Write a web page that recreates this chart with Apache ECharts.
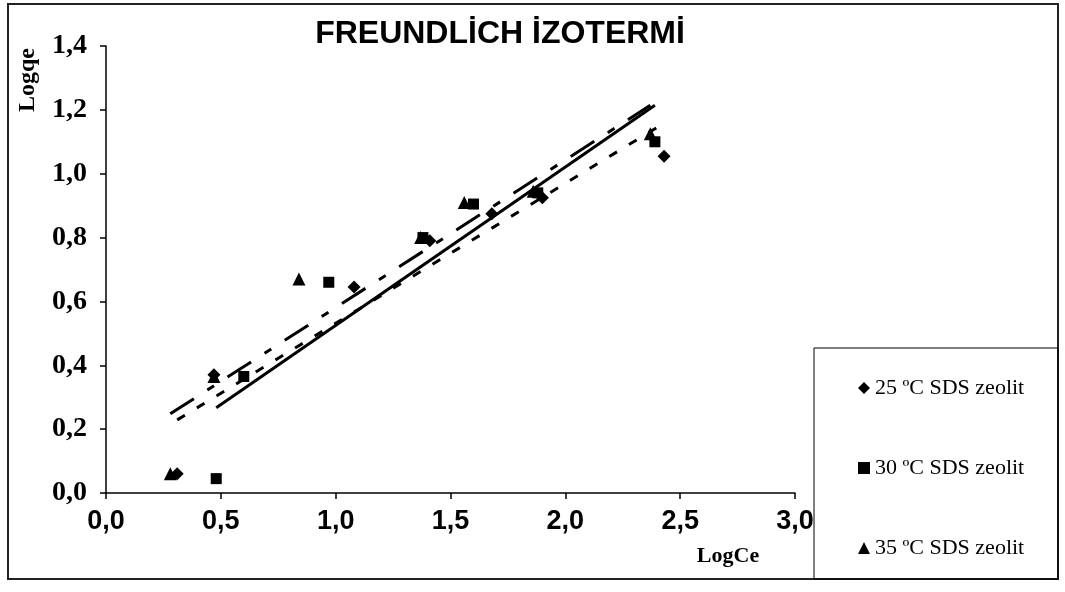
<!DOCTYPE html>
<html>
<head>
<meta charset="utf-8">
<style>
  html, body { margin: 0; padding: 0; background: #fff; }
  #chart { width: 1065px; height: 592px; }
</style>
<script src="https://cdn.jsdelivr.net/npm/echarts@6/dist/echarts.min.js"></script>
</head>
<body>
<div id="chart"></div>
<script>
// Freundlich isotherm: log Ce vs log qe at three temperatures
const seriesNames = ['25 ºC SDS zeolit', '30 ºC SDS zeolit', '35 ºC SDS zeolit'];

const logCe25 = [0.31, 0.47, 1.08, 1.41, 1.68, 1.90, 2.43];
const logqe25 = [0.06, 0.37, 0.645, 0.79, 0.875, 0.925, 1.055];

const logCe30 = [0.48, 0.60, 0.97, 1.38, 1.60, 1.88, 2.39];
const logqe30 = [0.045, 0.365, 0.66, 0.80, 0.905, 0.94, 1.10];

const logCe35 = [0.28, 0.47, 0.84, 1.37, 1.56, 1.86, 2.37];
const logqe35 = [0.06, 0.365, 0.67, 0.80, 0.91, 0.945, 1.125];

const xTicks = { min: 0, max: 3, step: 0.5 };
const yTicks = { min: 0, max: 1.4, step: 0.2 };

function pairs(xs, ys) { return xs.map((x, i) => [x, ys[i]]); }

// least-squares trendline spanning the series' x range
function trend(xs, ys) {
  const n = xs.length;
  const mx = xs.reduce((a, b) => a + b, 0) / n;
  const my = ys.reduce((a, b) => a + b, 0) / n;
  let sxy = 0, sxx = 0;
  for (let i = 0; i < n; i++) {
    sxy += (xs[i] - mx) * (ys[i] - my);
    sxx += (xs[i] - mx) * (xs[i] - mx);
  }
  const b = sxy / sxx, a = my - b * mx;
  const x0 = Math.min(...xs), x1 = Math.max(...xs);
  return [[x0, a + b * x0], [x1, a + b * x1]];
}

const comma = v => v.toFixed(1).replace('.', ',');
const SERIF = "'Liberation Serif', 'Times New Roman', serif";
const SANS = "'Liberation Sans', Arial, sans-serif";

const chart = echarts.init(document.getElementById('chart'), null, { renderer: 'canvas' });

const markerStyle = { color: '#000', opacity: 1 };

chart.setOption({
  animation: false,
  backgroundColor: '#fff',
  grid: { left: 106, right: 270, top: 46, bottom: 99 },
  xAxis: {
    type: 'value', min: xTicks.min, max: xTicks.max, interval: xTicks.step,
    axisLine: { lineStyle: { color: '#000', width: 1.5 } },
    axisTick: { show: true, length: 6, lineStyle: { color: '#000', width: 1.5 } },
    splitLine: { show: false },
    axisLabel: { formatter: comma, color: '#000', fontFamily: SANS, fontWeight: 'bold', fontSize: 27, margin: 15 }
  },
  yAxis: {
    type: 'value', min: yTicks.min, max: yTicks.max, interval: yTicks.step,
    axisLine: { show: true, lineStyle: { color: '#000', width: 1.5 } },
    axisTick: { show: true, length: 6, lineStyle: { color: '#000', width: 1.5 } },
    splitLine: { show: false },
    axisLabel: { formatter: comma, color: '#000', fontFamily: SERIF, fontWeight: 'bold', fontSize: 28, margin: 19 }
  },
  legend: {
    orient: 'vertical', left: 853, top: 372,
    itemWidth: 12, itemHeight: 12, itemGap: 58,
    textStyle: { color: '#000', fontFamily: SERIF, fontSize: 22, lineHeight: 22 },
    data: [
      { name: seriesNames[0], icon: 'diamond' },
      { name: seriesNames[1], icon: 'rect' },
      { name: seriesNames[2], icon: 'triangle' }
    ]
  },
  graphic: [
    { type: 'rect', shape: { x: 8, y: 4, width: 1050, height: 575 }, style: { fill: 'none', stroke: '#222', lineWidth: 2 }, z: -1 },
    { type: 'rect', shape: { x: 814, y: 348, width: 244, height: 231 }, style: { fill: 'none', stroke: '#000', lineWidth: 1 } },
    { type: 'text', x: 500, y: 34, style: { text: 'FREUNDLİCH İZOTERMİ', fill: '#000', font: "bold 32px 'Liberation Sans', Arial, sans-serif", textAlign: 'center', textVerticalAlign: 'middle' } },
    { type: 'text', x: 28, y: 80, rotation: Math.PI / 2, style: { text: 'Logqe', fill: '#000', font: "bold 24px 'Liberation Serif', serif", textAlign: 'center', textVerticalAlign: 'middle' } },
    { type: 'text', x: 728, y: 556, style: { text: 'LogCe', fill: '#000', font: "bold 22px 'Liberation Serif', serif", textAlign: 'center', textVerticalAlign: 'middle' } }
  ],
  series: [
    { name: seriesNames[0], type: 'scatter', symbol: 'diamond', symbolSize: 13, itemStyle: markerStyle, data: pairs(logCe25, logqe25), z: 3 },
    { name: seriesNames[1], type: 'scatter', symbol: 'rect', symbolSize: 11, itemStyle: markerStyle, data: pairs(logCe30, logqe30), z: 3 },
    { name: seriesNames[2], type: 'scatter', symbol: 'triangle', symbolSize: 13, itemStyle: markerStyle, data: pairs(logCe35, logqe35), z: 3 },
    { name: 'trend25', type: 'line', symbol: 'none', silent: true, z: 4,
      lineStyle: { color: '#000', width: 3, type: [9, 14] }, data: trend(logCe25, logqe25) },
    { name: 'trend30', type: 'line', symbol: 'none', silent: true, z: 4,
      lineStyle: { color: '#000', width: 3, type: 'solid' }, data: trend(logCe30, logqe30) },
    { name: 'trend35', type: 'line', symbol: 'none', silent: true, z: 4,
      lineStyle: { color: '#000', width: 3, type: [28, 16, 8, 16] }, data: trend(logCe35, logqe35) }
  ]
});
</script>
</body>
</html>
